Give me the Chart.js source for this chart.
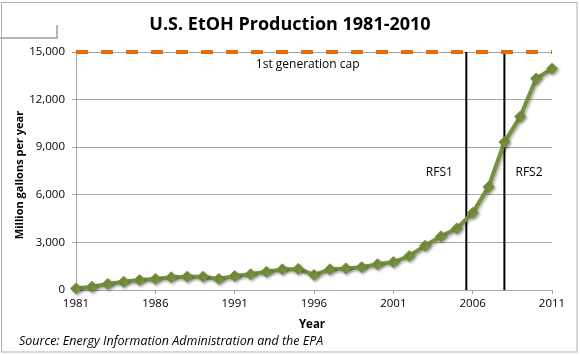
<!DOCTYPE html>
<html><head><meta charset="utf-8">
<script src="https://cdn.jsdelivr.net/npm/chart.js@4.4.1/dist/chart.umd.min.js"></script>
<style>html,body{margin:0;padding:0;background:#fff}#wrap{width:580px;height:355px;position:relative}</style>
</head><body><div id="wrap"><canvas id="c" width="580" height="355"></canvas></div>
<script>
const years = [1981,1982,1983,1984,1985,1986,1987,1988,1989,1990,1991,1992,1993,1994,1995,1996,1997,1998,1999,2000,2001,2002,2003,2004,2005,2006,2007,2008,2009,2010,2011];
const production = [100,200,380,520,630,700,800,840,840,700,880,990,1150,1300,1330,950,1300,1360,1440,1620,1760,2140,2790,3380,3880,4860,6500,9320,10930,13330,13950];
const xTickLabels = [1981,1986,1991,1996,2001,2006,2011];
const yTickValues = [0,3000,6000,9000,12000,15000];
const capValue = 15000;
const rfsYears = [2005.6, 2008];
const rfsNames = ['RFS1','RFS2'];
const titleText = 'U.S. EtOH Production 1981-2010';
const yTitle = 'Million gallons per year';
const xTitle = 'Year';
const capText = '1st generation cap';
const sourceText = 'Source: Energy Information Administration and the EPA';

const FONT = '"Open Sans", "Liberation Sans", sans-serif';
const GRID = '#a6a6a6';

const decor = {
  id: 'decor',
  beforeDatasetDraw(chart, args) {
    if (args.index === 0) {
      const c = chart.ctx; c.save();
      c.shadowColor = 'rgba(0,0,0,0.35)'; c.shadowBlur = 3; c.shadowOffsetX = 1.5; c.shadowOffsetY = 1.5;
    }
  },
  afterDatasetDraw(chart, args) {
    if (args.index === 0) chart.ctx.restore();
  },
  afterDraw(chart) {
    const c = chart.ctx, xs = chart.scales.x, ys = chart.scales.y, a = chart.chartArea;
    c.save();
    c.strokeStyle = '#b0b0b0'; c.lineWidth = 1;
    c.strokeRect(1.5, 2.5, 575.5, 349.5);
    c.strokeStyle = '#a0a0a0'; c.lineWidth = 1.5;
    c.beginPath(); c.moveTo(0, 38); c.lineTo(57, 38); c.lineTo(57, 25); c.stroke();

    c.fillStyle = '#000';
    c.textAlign = 'center'; c.textBaseline = 'middle';
    c.font = 'bold 18px ' + FONT;
    c.fillText(titleText, 290, 25);

    c.font = '12px ' + FONT;
    c.fillText(capText, xs.getPixelForValue(1995.6), ys.getPixelForValue(14180));
    c.fillText(rfsNames[0], xs.getPixelForValue(2003.9), ys.getPixelForValue(7370));
    c.fillText(rfsNames[1], xs.getPixelForValue(2009.55), ys.getPixelForValue(7370));

    c.font = 'bold 11.5px ' + FONT;
    c.fillText(xTitle, 312, 325);
    c.save();
    c.translate(20, (a.top + a.bottom) / 2 + 4);
    c.rotate(-Math.PI / 2);
    c.font = 'bold 11px ' + FONT;
    c.fillText(yTitle, 0, 0);
    c.restore();

    c.font = 'italic 12.5px ' + FONT;
    c.textAlign = 'left';
    c.fillText(sourceText, 19, 341);
    c.restore();
  }
};

const pts = years.map((yr, i) => ({x: yr, y: production[i]}));
const datasets = [
  {label: 'Production', data: pts, borderColor: '#76923C', backgroundColor: '#76923C',
   borderWidth: 4, pointStyle: 'rectRot', pointRadius: 5.5, pointBorderWidth: 1, pointBorderColor: '#76923C', tension: 0, clip: false},
  {label: 'cap', data: [{x: years[0], y: capValue}, {x: years[years.length - 1], y: capValue}],
   borderColor: '#E46C0A', borderWidth: 4, borderDash: [12, 13], pointRadius: 0, clip: false}
];
rfsYears.forEach((yr, i) => datasets.push({label: rfsNames[i], data: [{x: yr, y: 0}, {x: yr, y: capValue}],
  borderColor: '#000', borderWidth: 2, pointRadius: 0, clip: false}));

new Chart(document.getElementById('c'), {
  type: 'line',
  data: {datasets},
  plugins: [decor],
  options: {
    responsive: false, animation: false, devicePixelRatio: 1,
    layout: {padding: {left: 0, right: 28, top: 52, bottom: 0}},
    plugins: {legend: {display: false}, title: {display: false}, tooltip: {enabled: false}},
    scales: {
      x: {type: 'linear', min: years[0], max: years[years.length - 1],
        afterBuildTicks: s => { s.ticks = xTickLabels.map(v => ({value: v})); },
        afterFit: s => { s.height = 65; },
        ticks: {font: {family: FONT, size: 11.5}, color: '#000', padding: 3, maxRotation: 0, callback: v => String(v)},
        grid: {drawOnChartArea: false, drawTicks: true, tickLength: 4, color: GRID},
        border: {color: GRID, width: 1}},
      y: {min: 0, max: capValue,
        afterBuildTicks: s => { s.ticks = yTickValues.map(v => ({value: v})); },
        afterFit: s => { s.width = 76; },
        ticks: {font: {family: FONT, size: 11.5}, color: '#000', padding: 7, callback: v => v.toLocaleString('en-US')},
        grid: {color: GRID, tickLength: 4},
        border: {color: GRID, width: 1}}
    }
  }
});
</script></body></html>
